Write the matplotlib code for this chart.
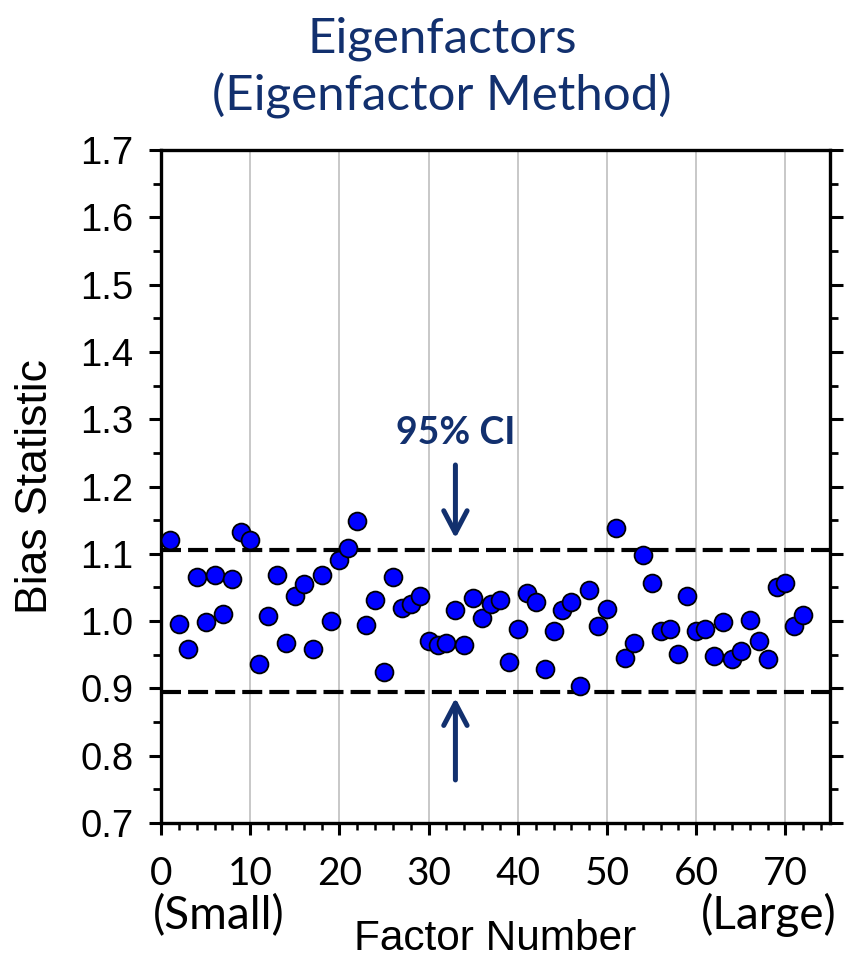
import numpy as np
import matplotlib
matplotlib.use("Agg")
import matplotlib.pyplot as plt
from matplotlib.ticker import MultipleLocator

# factor numbers and bias statistics
factor = np.arange(1, 73)
bias = [1.120, 0.996, 0.958, 1.065, 0.999, 1.069, 1.010, 1.062, 1.132, 1.120,
        0.936, 1.008, 1.068, 0.968, 1.037, 1.055, 0.958, 1.068, 1.000, 1.091,
        1.109, 1.149, 0.994, 1.032, 0.925, 1.066, 1.019, 1.025, 1.037, 0.971,
        0.965, 0.967, 1.016, 0.964, 1.034, 1.004, 1.025, 1.032, 0.939, 0.989,
        1.042, 1.028, 0.929, 0.986, 1.016, 1.029, 0.903, 1.046, 0.993, 1.018,
        1.139, 0.945, 0.967, 1.098, 1.056, 0.985, 0.989, 0.951, 1.037, 0.985,
        0.988, 0.948, 0.998, 0.944, 0.956, 1.001, 0.971, 0.943, 1.050, 1.057,
        0.993, 1.009]
ci_upper = 1.105
ci_lower = 0.895
x_ticks = [0, 10, 20, 30, 40, 50, 60, 70]
y_ticks = [0.7, 0.8, 0.9, 1.0, 1.1, 1.2, 1.3, 1.4, 1.5, 1.6, 1.7]

navy = '#12306e'
calibri_like = ['Lato', 'DejaVu Sans']
arial_like = ['Liberation Sans', 'DejaVu Sans']

fig = plt.figure(figsize=(8.44, 9.6), dpi=100)
ax = fig.add_axes([0.1908, 0.1427, 0.7927, 0.7010])

ax.set_xlim(0, 75)
ax.set_ylim(0.7, 1.7)
ax.set_xticks(x_ticks)
ax.set_yticks(y_ticks)
ax.xaxis.set_minor_locator(MultipleLocator(2))
ax.yaxis.set_minor_locator(MultipleLocator(0.05))
ax.grid(axis='x', which='major', color='#c4c4c4', linewidth=1.3)
ax.set_axisbelow(True)

for sp in ax.spines.values():
    sp.set_linewidth(2.4)

ax.tick_params(axis='y', which='both', direction='out', left=True, right=True,
               labelright=False)
ax.tick_params(axis='y', which='major', length=9, width=2.2, pad=11)
ax.tick_params(axis='y', which='minor', length=5.5, width=2.0)
ax.tick_params(axis='x', which='both', direction='out', bottom=True, top=False)
ax.tick_params(axis='x', which='major', length=8.5, width=2.2, pad=15)
ax.tick_params(axis='x', which='minor', length=5, width=1.8)

ax.set_yticklabels([f"{v:.1f}" for v in y_ticks], fontsize=27.5, family=arial_like)
ax.set_xticklabels([str(v) for v in x_ticks], fontsize=28, family=calibri_like)

# confidence interval bounds
ax.axhline(ci_upper, color='black', linewidth=3, dashes=(4.8, 1.7))
ax.axhline(ci_lower, color='black', linewidth=3, dashes=(4.8, 1.7))

ax.scatter(factor, bias, s=165, color='#0000ff', edgecolors='black',
           linewidths=1.3, zorder=3)

# 95% CI label and arrows
ax.text(33, 1.279, '95% CI', color=navy, fontsize=27, fontweight='bold',
        family=calibri_like, ha='center', va='center')
arrow_kw = dict(arrowstyle='->,head_length=0.8,head_width=0.42', color=navy,
                lw=3.6, capstyle='round', joinstyle='round', mutation_scale=20,
                shrinkA=0, shrinkB=0)
ax.annotate('', xy=(33, 1.123), xytext=(33, 1.232), arrowprops=arrow_kw)
ax.annotate('', xy=(33, 0.886), xytext=(33, 0.764), arrowprops=arrow_kw)

ax.set_ylabel('Bias Statistic', fontsize=32, family=arial_like, va='center')
ax.yaxis.set_label_coords(-0.188, 0.5)
ax.set_xlabel('Factor Number', fontsize=30.5, family=arial_like, va='center')
ax.xaxis.set_label_coords(0.5, -0.172)

ax.text(-0.012, -0.137, '(Small)', transform=ax.transAxes, fontsize=33,
        family=calibri_like, ha='left', va='center')
ax.text(1.0105, -0.137, '(Large)', transform=ax.transAxes, fontsize=33,
        family=calibri_like, ha='right', va='center')

fig.text(0.524, 0.9295, 'Eigenfactors\n(Eigenfactor Method)', color=navy,
         fontsize=35.5, family=calibri_like, ha='center', va='center',
         linespacing=1.32)

fig.savefig('out.png', dpi=100)
